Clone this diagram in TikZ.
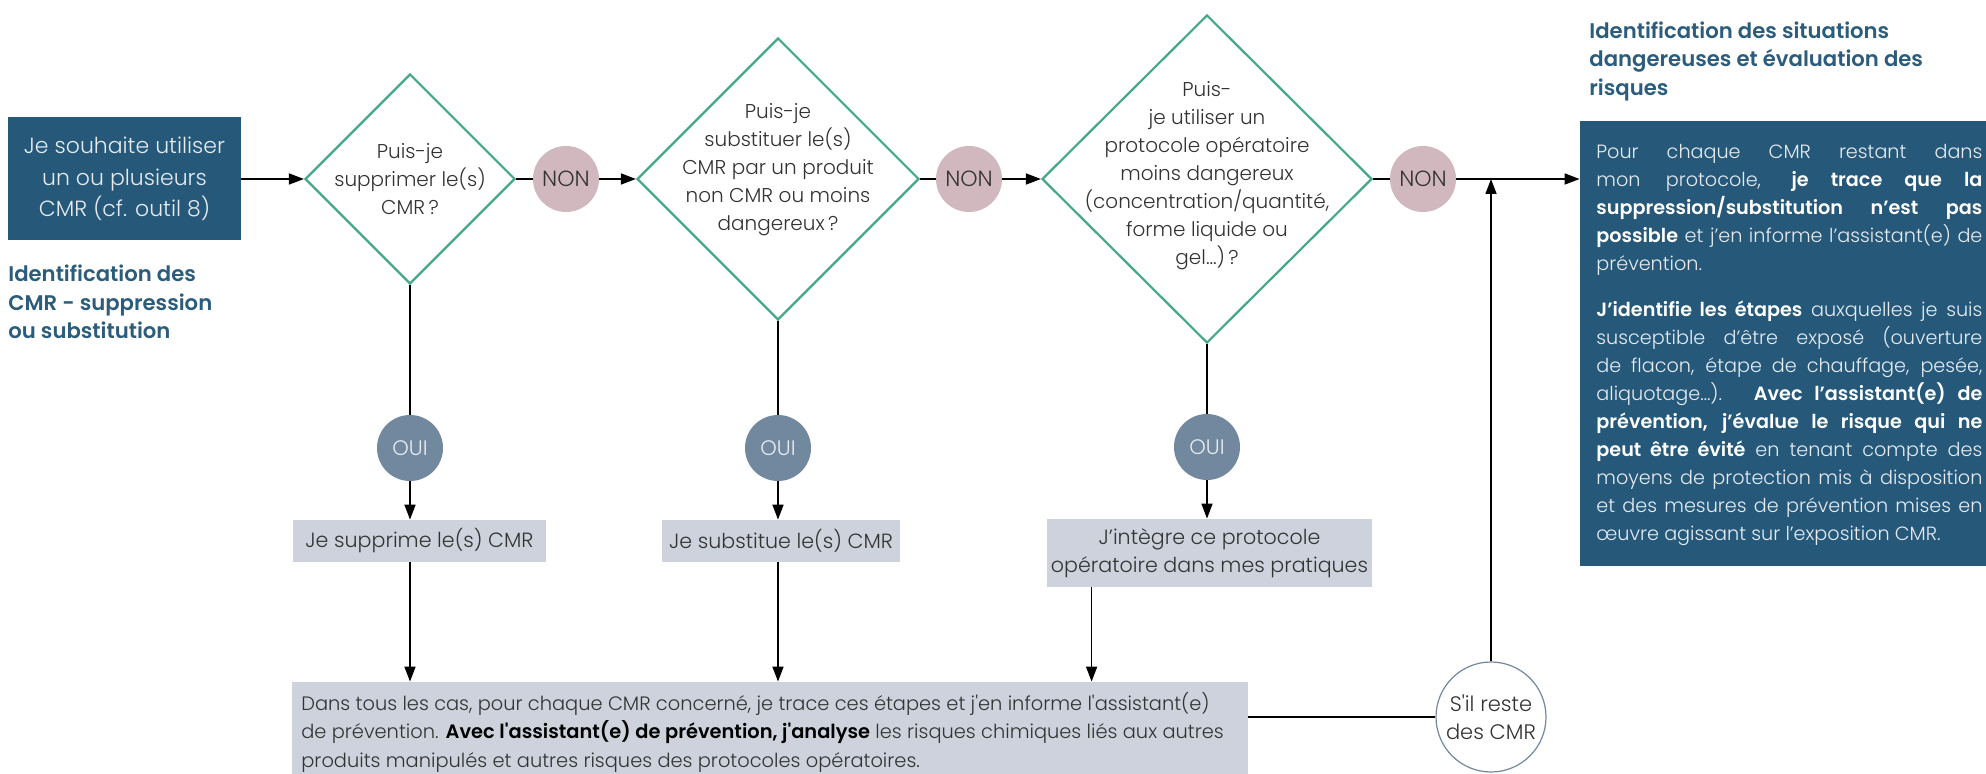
\documentclass[tikz,border=0pt]{standalone}
\usepackage{fontspec}
\usetikzlibrary{shapes.geometric,arrows.meta,calc}
\setmainfont{Poppins}
\IfFontExistsTF{Poppins Light}{\newfontfamily\lightf{Poppins Light}}{\newfontfamily\lightf{Poppins}}
\IfFontExistsTF{Poppins SemiBold}{\newfontfamily\semib{Poppins SemiBold}}{\newfontfamily\semib{Poppins}[UprightFont=*,BoldFont=*]\def\semibx{\bfseries}}
\providecommand\semibx{}
\newcommand\B[1]{{\semib\semibx #1}}
\newcommand\W[1]{{\color{white}\B{#1}}}
\definecolor{dblue}{HTML}{26587A}
\definecolor{headc}{HTML}{2B5C7C}
\definecolor{dgreen}{HTML}{45A88A}
\definecolor{nonc}{HTML}{D1B8BF}
\definecolor{ouic}{HTML}{72889F}
\definecolor{lgray}{HTML}{CDD2DD}
\definecolor{txt}{HTML}{333333}
\definecolor{wtxt}{HTML}{E6ECF0}
\begin{document}
\begin{tikzpicture}[x=0.5pt,y=-0.5pt,
  darkbox/.style={rectangle, fill=dblue, inner sep=0pt, text=wtxt},
  decision/.style={diamond, draw=dgreen, line width=1.1pt, inner sep=0pt},
  qtext/.style={align=center, text=txt, inner sep=0pt, font=\lightf\fontsize{10}{14}\selectfont},
  nonbub/.style={circle, fill=nonc, inner sep=0pt, minimum size=33pt, text=txt, font=\lightf\fontsize{11}{13}\selectfont},
  ouibub/.style={circle, fill=ouic, inner sep=0pt, minimum size=33pt, text=wtxt, font=\lightf\fontsize{10.5}{13}\selectfont},
  actbox/.style={rectangle, fill=lgray, inner sep=0pt, text=txt, align=center, font=\lightf\fontsize{10.3}{14}\selectfont},
  heading/.style={align=left, text=headc, inner sep=0pt, font=\semib\semibx\fontsize{10.6}{14.25}\selectfont},
  flow/.style={-{Triangle[length=7.5pt,width=5.5pt]}, line width=0.8pt, black},
  link/.style={line width=0.8pt, black}]
\path[use as bounding box] (0,0) rectangle (1986,774);

% start
\node[darkbox, minimum width=116.5pt, minimum height=61.5pt, align=center,
  font=\lightf\fontsize{11}{15.75}\selectfont] (start) at (124.5,179)
  {Je souhaite utiliser\\un ou plusieurs\\CMR (cf. outil 8)};
\node[heading, anchor=west] (lhead) at (8,302)
  {Identification des\\CMR - suppression\\ou substitution};

% decisions
\node[decision, minimum width=105pt, minimum height=105pt] (d1) at (410,179) {};
\node[qtext] (t1) at (410,179) {Puis-je\\supprimer le(s)\\CMR\,?};
\node[decision, minimum width=141pt, minimum height=141pt] (d2) at (778,179) {};
\node[qtext] (t2) at (778,170) {Puis-je\\substituer le(s)\\CMR par un produit\\non CMR ou moins\\dangereux\,?};
\node[decision, minimum width=165pt, minimum height=164pt] (d3) at (1207,179) {};
\node[qtext] (t3) at (1207,176) {Puis-\\je utiliser un\\protocole opératoire\\moins dangereux\\(concentration/quantité,\\forme liquide ou\\gel…)\,?};

% NON
\node[nonbub] (non1) at (566,179) {NON};
\node[nonbub] (non2) at (969,179) {NON};
\node[nonbub] (non3) at (1423,179) {NON};

% OUI
\node[ouibub] (oui1) at (410,448) {OUI};
\node[ouibub] (oui2) at (778,448) {OUI};
\node[ouibub] (oui3) at (1207,447) {OUI};

% action boxes
\node[actbox, minimum width=126.5pt, minimum height=21pt] (box1) at (419.5,541) {Je supprime le(s) CMR};
\node[actbox, minimum width=119pt, minimum height=21pt] (box2) at (781,541) {Je substitue le(s) CMR};
\node[actbox, minimum width=162.5pt, minimum height=34pt] (box3) at (1209.5,553) {J’intègre ce protocole\\opératoire dans mes pratiques};

% bottom box
\node[rectangle, fill=lgray, inner sep=0pt, minimum width=478pt, minimum height=46pt] (bottom) at (770,728) {};
\node[anchor=west, align=left, text=txt, inner sep=0pt, font=\lightf\fontsize{9.7}{14.25}\selectfont] (btext) at (301,732)
  {Dans tous les cas, pour chaque CMR concerné, je trace ces étapes et j'en informe l'assistant(e)\\
   de prévention. {\color{black}\B{Avec l'assistant(e) de prévention, j'analyse}} les risques chimiques liés aux autres\\
   produits manipulés et autres risques des protocoles opératoires.};

% loop circle
\node[circle, fill=white, draw=ouic, line width=0.6pt, inner sep=0pt, minimum size=55pt, align=center,
  text=txt, font=\lightf\fontsize{10.5}{14}\selectfont] (reste) at (1491,717) {S'il reste\\des CMR};

% right side
\node[heading, anchor=west] (rhead) at (1589,61)
  {Identification des situations\\dangereuses et évaluation des\\risques};
\node[darkbox, minimum width=203pt, minimum height=222.5pt] (rbox) at (1783,343.5) {};
\node[anchor=west, text width=193pt, align=justify, inner sep=0pt, text=wtxt,
  font=\lightf\fontsize{9.6}{14}\selectfont] (rtext) at (1596,345)
  {\hyphenpenalty=10000\relax\exhyphenpenalty=10000\relax\tolerance=10000\relax
   Pour chaque CMR restant dans\linebreak
   mon protocole, \W{je trace que la}\linebreak
   \W{suppression/substitution n’est pas}\linebreak
   \W{possible} et j’en informe l’assistant(e) de\linebreak
   prévention.\par\vspace{9pt}
   \W{J’identifie les étapes} auxquelles je suis\linebreak
   susceptible d’être exposé (ouverture\linebreak
   de flacon, étape de chauffage, pesée,\linebreak
   aliquotage…). \W{Avec l’assistant(e) de}\linebreak
   \W{prévention, j’évalue le risque qui ne}\linebreak
   \W{peut être évité} en tenant compte des\linebreak
   moyens de protection mis à disposition\linebreak
   et des mesures de prévention mises en\linebreak
   œuvre agissant sur l’exposition CMR.};

% connectors
\draw[flow] (start.east) -- (d1.west);
\draw[link] (d1.east) -- (non1.west);
\draw[flow] (non1.east) -- (d2.west);
\draw[link] (d2.east) -- (non2.west);
\draw[flow] (non2.east) -- (d3.west);
\draw[link] (d3.east) -- (non3.west);
\draw[flow] (non3.east) -- (non3.east -| rbox.west);

\draw[link] (d1.south) -- (oui1.north);
\draw[link] (d2.south) -- (oui2.north);
\draw[link] (d3.south) -- (oui3.north);
\draw[flow] (oui1.south) -- (oui1.south |- box1.north);
\draw[flow] (oui2.south) -- (oui2.south |- box2.north);
\draw[flow] (oui3.south) -- (oui3.south |- box3.north);

\draw[flow] (oui1 |- box1.south) -- (oui1 |- bottom.north);
\draw[flow] (oui2 |- box2.south) -- (oui2 |- bottom.north);
\coordinate (b3out) at ($(box3.south west)+(45,0)$);
\draw[flow] (b3out) -- (b3out |- bottom.north);

\draw[link] (reste.west) -- (reste.west -| bottom.east);
\draw[flow] (reste.north) -- (reste.north |- non3.center);
\end{tikzpicture}
\end{document}
